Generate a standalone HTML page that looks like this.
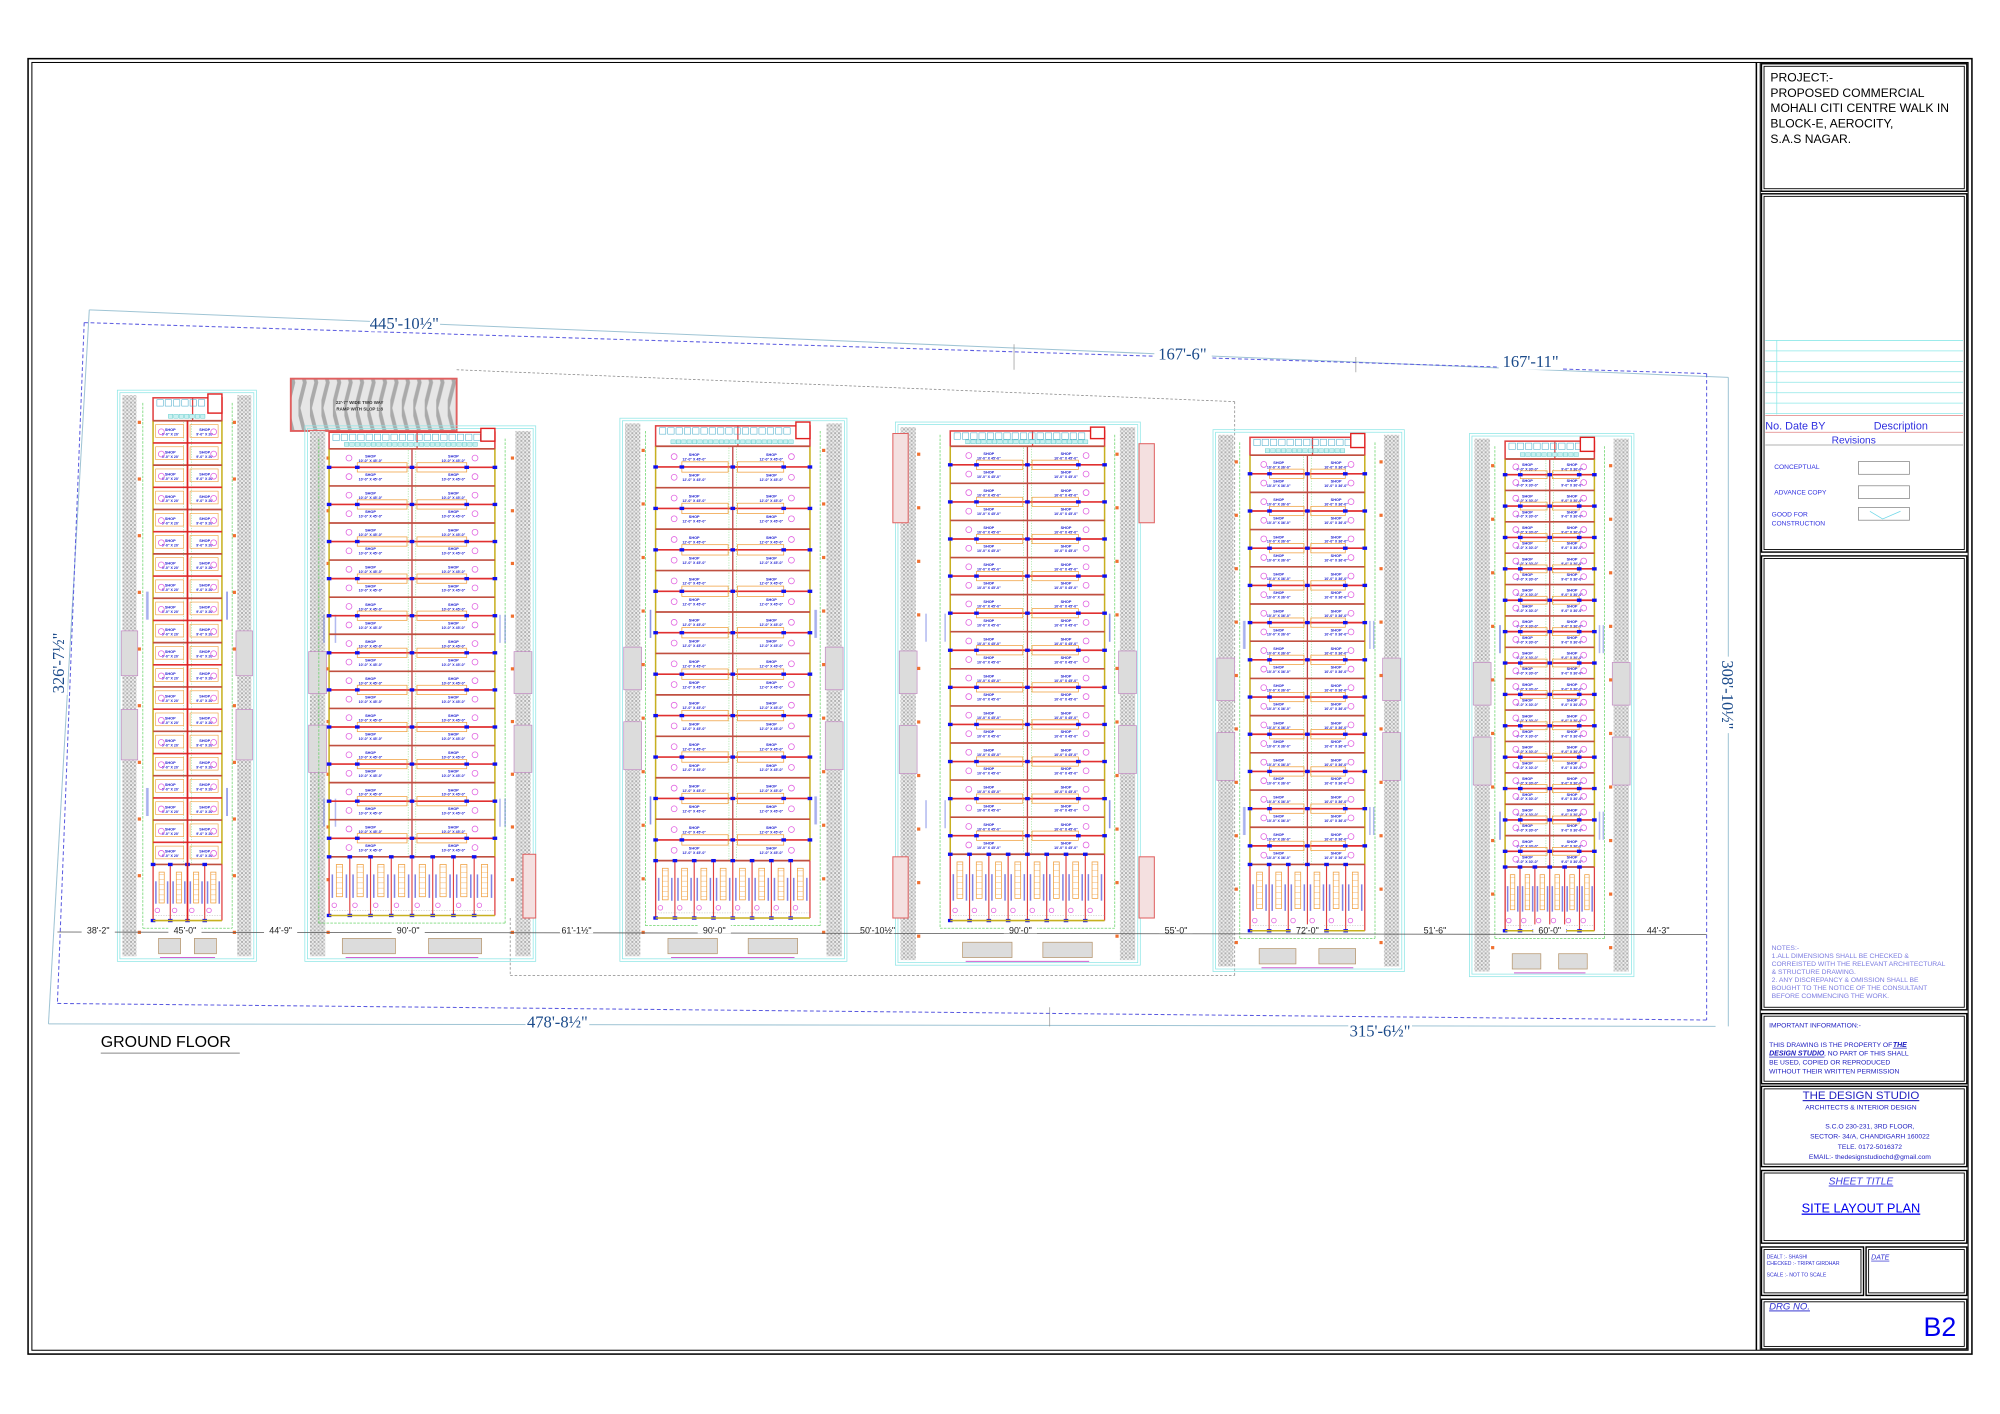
<!DOCTYPE html>
<html><head><meta charset="utf-8">
<style>
html,body{margin:0;padding:0;background:#fff;}
svg{display:block;}
text{font-family:"Liberation Sans",sans-serif;}
</style></head>
<body>
<svg id="s" xmlns="http://www.w3.org/2000/svg" width="2000" height="1414" viewBox="0 0 1568 1109" preserveAspectRatio="none">
<defs>
<pattern id="h" width="3" height="3" patternUnits="userSpaceOnUse">
<rect width="3" height="3" fill="#ececec"/>
<rect width="1.5" height="1.5" fill="#b0b0b0"/>
<rect x="1.5" y="1.5" width="1.5" height="1.5" fill="#c4c4c4"/>
</pattern>
<pattern id="ramp" width="9" height="40" patternUnits="userSpaceOnUse">
<rect width="9" height="40" fill="#e6e6e6"/>
<path d="M0 0 L5 20 L0 40" stroke="#aaa" stroke-width="3" fill="none"/>
</pattern>
</defs>
<rect width="1568" height="1109" fill="#fff"/>
<rect x="22" y="46" width="1524" height="1016" fill="none" stroke="#000" stroke-width="1.2"/>
<rect x="25" y="49" width="1518" height="1010" fill="none" stroke="#000" stroke-width="0.8"/>
<line x1="1377" y1="49" x2="1377" y2="1059" stroke="#000" stroke-width="1.2"/>
<line x1="1380" y1="49" x2="1380" y2="1059" stroke="#000" stroke-width="0.8"/>
<g id="tb"></g>
<g id="plan"></g>
</svg>
<script>
const NS="http://www.w3.org/2000/svg";
function el(p,t,a,txt){const e=document.createElementNS(NS,t);for(const k in a)e.setAttribute(k,a[k]);if(txt!==undefined)e.textContent=txt;p.appendChild(e);return e;}
const tb=document.getElementById('tb'), P=document.getElementById('plan');
function box(x1,y1,x2,y2){el(tb,'rect',{x:x1,y:y1,width:x2-x1,height:y2-y1,fill:'none',stroke:'#000','stroke-width':1.1});el(tb,'rect',{x:x1+2,y:y1+2,width:x2-x1-4,height:y2-y1-4,fill:'none',stroke:'#000','stroke-width':0.7});}
box(1381,50,1542,150);box(1381,152,1542,433);box(1381,436,1542,792);box(1381,795,1542,850);box(1381,852,1542,915);box(1381,918,1542,975);box(1381,978,1461,1016);box(1463,978,1542,1016);box(1381,1019,1542,1058);
const T=(x,y,s,t,o={})=>el(tb,'text',Object.assign({x:x,y:y,'font-size':s,fill:'#000'},o),t);
T(1388,64,9.5,'PROJECT:-');T(1388,76,9.5,'PROPOSED COMMERCIAL');T(1388,88,9.5,'MOHALI CITI CENTRE WALK IN');T(1388,100,9.5,'BLOCK-E, AEROCITY,');T(1388,112,9.5,'S.A.S NAGAR.');
for(let i=0;i<8;i++){el(tb,'line',{x1:1384,y1:267+i*8.2,x2:1539,y2:267+i*8.2,stroke:'#8ee8e8','stroke-width':0.6});}
el(tb,'line',{x1:1393,y1:267,x2:1393,y2:325,stroke:'#8ee8e8','stroke-width':0.6});
el(tb,'line',{x1:1384,y1:326,x2:1539,y2:326,stroke:'#e08080','stroke-width':0.6});
el(tb,'line',{x1:1384,y1:339,x2:1539,y2:339,stroke:'#e08080','stroke-width':0.6});
el(tb,'line',{x1:1384,y1:349,x2:1539,y2:349,stroke:'#999','stroke-width':0.6});
T(1384,337,8.5,'No.  Date  BY',{fill:'#3030e0'});T(1469,337,8.5,'Description',{fill:'#3030e0'});T(1436,348,8,'Revisions',{fill:'#3030e0'});
T(1391,368,5.2,'CONCEPTUAL',{fill:'#3030e0'});T(1391,388,5.2,'ADVANCE COPY',{fill:'#3030e0'});T(1389,405,5.2,'GOOD FOR',{fill:'#3030e0'});T(1389,412,5.2,'CONSTRUCTION',{fill:'#3030e0'});
[362,381,398].forEach(y=>el(tb,'rect',{x:1457,y:y,width:40,height:10,fill:'none',stroke:'#888','stroke-width':0.6}));
el(tb,'path',{d:'M1466 401 L1476 407 L1490 401',stroke:'#6fd8e8','stroke-width':0.6,fill:'none'});
const nc='#7b7be0';
['NOTES:-','1.ALL DIMENSIONS SHALL BE CHECKED &','CORREISTED WITH THE RELEVANT ARCHITECTURAL','& STRUCTURE DRAWING.','2. ANY DISCREPANCY & OMISSION SHALL BE','BOUGHT TO THE NOTICE OF THE CONSULTANT','BEFORE COMMENCING THE WORK.'].forEach((t,i)=>T(1389,745+i*6.3,5.3,t,{fill:nc}));
T(1387,806,5.3,'IMPORTANT INFORMATION:-',{fill:'#2020c0'});
T(1387,821,5.3,'THIS DRAWING IS THE PROPERTY OF ',{fill:'#2020c0'});
T(1484,821,5.5,'THE',{fill:'#2020c0','font-weight':'bold','font-style':'italic','text-decoration':'underline'});
T(1387,828,5.5,'DESIGN STUDIO',{fill:'#2020c0','font-weight':'bold','font-style':'italic','text-decoration':'underline'});
T(1430,828,5.3,', NO PART OF THIS SHALL',{fill:'#2020c0'});
T(1387,835,5.3,'BE USED, COPIED OR REPRODUCED',{fill:'#2020c0'});T(1387,842,5.3,'WITHOUT THEIR WRITTEN PERMISSION',{fill:'#2020c0'});
const C={'text-anchor':'middle',fill:'#2020c0'};
T(1459,862,9,'THE DESIGN STUDIO',Object.assign({},C,{'text-decoration':'underline'}));
T(1459,870,5.3,'ARCHITECTS & INTERIOR DESIGN',C);
T(1466,885,5.3,'S.C.O 230-231, 3RD FLOOR,',C);T(1466,893,5.3,'SECTOR- 34/A, CHANDIGARH 160022',C);T(1466,901,5.3,'TELE. 0172-5016372',C);T(1466,909,5.3,'EMAIL:- thedesignstudiochd@gmail.com',C);
T(1459,929,8,'SHEET TITLE',Object.assign({},C,{'font-style':'italic','text-decoration':'underline',fill:'#4040e0'}));
T(1459,951,10,'SITE LAYOUT PLAN',Object.assign({},C,{fill:'#0000ee','text-decoration':'underline'}));
T(1385,987,4,'DEALT    :- SHASHI',{fill:'#3030d0'});T(1385,992,4,'CHECKED :- TRIPAT GIRDHAR',{fill:'#3030d0'});T(1385,1001,4,'SCALE    :- NOT TO SCALE',{fill:'#3030d0'});
T(1467,988,5.5,'DATE',{fill:'#3030d0','font-style':'italic','text-decoration':'underline'});
T(1387,1027,7.5,'DRG NO.',{fill:'#3030d0','font-style':'italic','text-decoration':'underline'});
T(1508,1048,21,'B2',{fill:'#0000ee'});

const L=(x1,y1,x2,y2,c,w,d)=>el(P,'line',Object.assign({x1,y1,x2,y2,stroke:c,'stroke-width':w||0.7},d?{'stroke-dasharray':d}:{}));
L(70,243,1355,296,'#9fc4d4',0.8);L(70,243,38,803,'#9fc4d4',0.8);L(38,803,1345,805,'#9fc4d4',0.8);L(1355,296,1355,805,'#9fc4d4',0.8);
L(66,253,1338,293,'#5a5ae0',0.8,'3,2');L(66,253,45,787,'#5a5ae0',0.8,'3,2');L(45,787,1338,800,'#5a5ae0',0.8,'3,2');L(1338,293,1338,800,'#5a5ae0',0.8,'3,2');
L(358,290,968,315,'#888',0.6,'2,1.5');L(968,315,968,765,'#888',0.6,'2,1.5');L(400,765,968,765,'#888',0.6,'2,1.5');L(400,720,400,765,'#888',0.6,'2,1.5');
L(795,270,795,290,'#888',0.5);L(1063,280,1063,292,'#888',0.5);L(823,790,823,805,'#888',0.5);
const D=(x,y,t,s,rot)=>{const e=el(P,'text',{x,y,'font-size':s,fill:'#1a4a8a','text-anchor':'middle'},t);if(rot)e.setAttribute('transform',`rotate(${rot} ${x} ${y})`);e.setAttribute('style','font-family:"Liberation Serif",serif');return e;};
el(P,'rect',{x:290,y:246,width:55,height:14,fill:'#fff'});D(317,258,"445'-10½\"",13);
el(P,'rect',{x:905,y:270,width:45,height:14,fill:'#fff'});D(927,282,"167'-6\"",13);
el(P,'rect',{x:1175,y:276,width:50,height:14,fill:'#fff'});D(1200,288,"167'-11\"",13);
el(P,'rect',{x:37,y:495,width:16,height:50,fill:'#fff'});D(50,520,"326'-7½\"",13,-90);
el(P,'rect',{x:1343,y:515,width:16,height:60,fill:'#fff'});D(1350,545,"308'-10½\"",13,90);
el(P,'rect',{x:412,y:794,width:50,height:14,fill:'#fff'});D(437,806,"478'-8½\"",13);
el(P,'rect',{x:1057,y:801,width:50,height:14,fill:'#fff'});D(1082,813,"315'-6½\"",13);
el(P,'text',{x:79,y:821,'font-size':12.5,fill:'#000'},'GROUND FLOOR');L(79,826,188,826,'#888',0.8);

function bldg(o){
 const {sL,sR,sw,top,bot,cL,cR,sTop,rTop,rBot,bBot,n,units,shopTxt}=o;
 el(P,'rect',{x:sL-4,y:top-4,width:sR+sw-sL+8,height:bot-top+8,fill:'none',stroke:'#8fe6e6','stroke-width':0.6});
 el(P,'rect',{x:sL-2,y:top-2,width:sR+sw-sL+4,height:bot-top+4,fill:'none',stroke:'#8fe6e6','stroke-width':0.6});
 el(P,'rect',{x:sL,y:top,width:sw,height:bot-top,fill:'url(#h)'});
 el(P,'rect',{x:sR,y:top,width:sw,height:bot-top,fill:'url(#h)'});
 [[0.42,0.5],[0.56,0.65]].forEach(([a,b])=>{const y1=top+(bot-top)*a,y2=top+(bot-top)*b;
  el(P,'rect',{x:sL-1,y:y1,width:sw+2,height:y2-y1,fill:'#dcdcdc',stroke:'#c080c0','stroke-width':0.5});
  el(P,'rect',{x:sR-1,y:y1,width:sw+2,height:y2-y1,fill:'#dcdcdc',stroke:'#c080c0','stroke-width':0.5});});
 L(cL-8,top+6,cL-8,bBot+6,'#4ccc4c',0.5,'2,1');L(cR+8,top+6,cR+8,bBot+6,'#4ccc4c',0.5,'2,1');
 L(cL-8,bBot+6,cR+8,bBot+6,'#4ccc4c',0.5,'2,1');
 for(const x of [sL+sw+8,sR-8,cL-4,cR+4]){for(const f of [0.35,0.7])el(P,'rect',{x:x-0.6,y:top+(bot-top)*f,width:1.2,height:22,fill:'#5566dd',opacity:0.45});}
 for(let i=0;i<10;i++){const y=top+20+i*(bot-top-40)/9;el(P,'rect',{x:sL+sw+1,y,width:2.5,height:2.5,fill:'#f07030'});el(P,'rect',{x:sR-3.5,y,width:2.5,height:2.5,fill:'#f07030'});}
 el(P,'rect',{x:cL,y:sTop,width:cR-cL,height:rTop-sTop,fill:'none',stroke:'#e04040','stroke-width':1.2});
 const mid=(cL+cR)/2;
 L(mid+4,sTop,mid+4,rTop,'#e04040',1);
 for(let x=cL+3;x<cR-14;x+=6.5){el(P,'rect',{x,y:sTop+1.5,width:5,height:5,fill:'none',stroke:'#40a8c8','stroke-width':0.4});}
 for(let x=cL+12;x<cR-15;x+=4.2){el(P,'rect',{x,y:rTop-5,width:3.5,height:3,fill:'#c8f0f0',stroke:'#40c0c0','stroke-width':0.3});}
 el(P,'rect',{x:cR-11,y:sTop-3,width:11,height:rTop-sTop-3,fill:'#fff',stroke:'#e02020','stroke-width':1.1});
 L(cL,rTop,cL,rBot,'#c8b020',1.2);L(cR,rTop,cR,rBot,'#c8b020',1.2);
 L(mid,rTop,mid,rBot,'#c04040',1);
 el(P,'rect',{x:mid-3,y:rTop,width:6,height:rBot-rTop,fill:'none',stroke:'#50d050','stroke-width':0.3,'stroke-dasharray':'1,1'});
 const rh=(rBot-rTop)/n;
 for(let i=0;i<=n;i++){
  const y=rTop+i*rh;
  L(cL,y,cR,y,i%2?'#e03030':'#c05040',1.3);
  if(o.stairs && i%2==1 && i<n){
   el(P,'rect',{x:cL+(cR-cL)*0.17,y:y-rh*0.25,width:(mid-cL)*0.6,height:rh*0.5,fill:'none',stroke:'#f0a040','stroke-width':0.6});
   el(P,'rect',{x:mid+(cR-mid)*0.06,y:y-rh*0.25,width:(cR-mid)*0.6,height:rh*0.5,fill:'none',stroke:'#f0a040','stroke-width':0.6});
   for(const x of [cL,mid,cR,cL+(cR-cL)*0.17,cR-(cR-cL)*0.17]) el(P,'rect',{x:x-1.8,y:y-1.3,width:3.6,height:2.6,fill:'#1010ee'});
  }
  if(i<n){
   const cy=y+rh/2;
   for(const cx of [cL+(mid-cL)*0.5,mid+(cR-mid)*0.5]){
    el(P,'text',{x:cx,y:cy-0.5,'font-size':3,fill:'#1a1ad0','text-anchor':'middle','font-weight':'bold'},'SHOP');
    el(P,'text',{x:cx,y:cy+3,'font-size':2.8,fill:'#1a1ad0','text-anchor':'middle','font-weight':'bold'},shopTxt);
   }
   el(P,'circle',{cx:cL+(cR-cL)*0.12,cy:cy,r:2.3,fill:'none',stroke:'#e060e0','stroke-width':0.6});
   el(P,'circle',{cx:cR-(cR-cL)*0.12,cy:cy,r:2.3,fill:'none',stroke:'#e060e0','stroke-width':0.6});
  }
 }
 const uw=(cR-cL)/units;
 L(cL,rBot,cL,bBot,'#e04040',1);L(cR,rBot,cR,bBot,'#e04040',1);
 for(let i=0;i<units;i++){
  const x=cL+i*uw;
  L(x,rBot,x,bBot,'#e04040',0.9);
  el(P,'rect',{x:x+uw*0.35,y:rBot+6,width:uw*0.3,height:(bBot-rBot)*0.55,fill:'none',stroke:'#f0a040','stroke-width':0.6});
  for(let k=0;k<6;k++)L(x+uw*0.35,rBot+8+k*(bBot-rBot)*0.09,x+uw*0.65,rBot+8+k*(bBot-rBot)*0.09,'#f0a040',0.3);
  el(P,'rect',{x:x+uw*0.12,y:rBot+(bBot-rBot)*0.3,width:1.2,height:(bBot-rBot)*0.4,fill:'#3030d0',opacity:0.6});
  el(P,'rect',{x:x+uw*0.8,y:rBot+(bBot-rBot)*0.3,width:1.2,height:(bBot-rBot)*0.4,fill:'#3030d0',opacity:0.6});
  el(P,'circle',{cx:x+uw*0.25,cy:bBot-8,r:1.8,fill:'none',stroke:'#e060e0','stroke-width':0.6});
  el(P,'rect',{x:x-1.8,y:rBot-1.3,width:3.6,height:2.6,fill:'#1010ee'});
  el(P,'rect',{x:x-1.8,y:bBot-1.3,width:3.6,height:2.6,fill:'#1010ee'});
 }
 L(cL,bBot,cR,bBot,'#c8b020',1.2);
 L(cL,bBot-4,cR,bBot-4,'#999',0.3,'1,1');
 const bw=(cR-cL)*0.32;
 el(P,'rect',{x:cL+(cR-cL)*0.08,y:bot-14,width:bw,height:12,fill:'#dcdcdc',stroke:'#b89870','stroke-width':0.6});
 el(P,'rect',{x:cR-(cR-cL)*0.08-bw,y:bot-14,width:bw,height:12,fill:'#dcdcdc',stroke:'#b89870','stroke-width':0.6});
 L(cL+(cR-cL)*0.1,bot+1,cR-(cR-cL)*0.1,bot+1,'#d060d0',0.8);
}
bldg({sL:96,sR:186,sw:11,top:310,bot:750,cL:120,cR:174,sTop:312,rTop:330,rBot:678,bBot:722,n:20,units:4,shopTxt:"9'-0\" X 20'",stairs:false});
for(let i=0;i<20;i++){const y=330+i*17.4;el(P,'rect',{x:122,y:y+3,width:22,height:10,fill:'none',stroke:'#f0a040','stroke-width':0.5});el(P,'rect',{x:149,y:y+3,width:22,height:10,fill:'none',stroke:'#f0a040','stroke-width':0.5});}
L(147,330,147,722,'#e02020',1.3);
el(P,'rect',{x:228,y:297,width:130,height:41,fill:'url(#ramp)',stroke:'#e06060','stroke-width':1.5});
el(P,'text',{x:282,y:317,'font-size':3.5,fill:'#333','font-weight':'bold','text-anchor':'middle'},"22'-7\" WIDE TWO WAY");
el(P,'text',{x:282,y:322,'font-size':3.5,fill:'#333','font-weight':'bold','text-anchor':'middle'},"RAMP WITH SLOP 1:8");
bldg({sL:243,sR:404,sw:12,top:338,bot:750,cL:258,cR:388,sTop:339,rTop:352,rBot:672,bBot:718,n:22,units:8,shopTxt:"10'-0\" X 45'-0\"",stairs:true});
bldg({sL:490,sR:648,sw:12,top:332,bot:750,cL:514,cR:635,sTop:334,rTop:350,rBot:675,bBot:720,n:20,units:8,shopTxt:"12'-0\" X 45'-0\"",stairs:true});
bldg({sL:706,sR:878,sw:12,top:335,bot:753,cL:745,cR:866,sTop:338,rTop:350,rBot:670,bBot:722,n:22,units:8,shopTxt:"10'-0\" X 45'-0\"",stairs:true});
bldg({sL:955,sR:1085,sw:12,top:341,bot:758,cL:980,cR:1070,sTop:343,rTop:357,rBot:678,bBot:730,n:22,units:6,shopTxt:"10'-0\" X 36'-0\"",stairs:true});
bldg({sL:1156,sR:1265,sw:12,top:344,bot:762,cL:1180,cR:1250,sTop:346,rTop:360,rBot:680,bBot:730,n:26,units:6,shopTxt:"9'-0\" X 30'-0\"",stairs:true});
[[410,670,420,720],[893,348,905,410],[893,672,905,720],[700,340,712,410],[700,672,712,720]].forEach(([x1,y1,x2,y2])=>el(P,'rect',{x:x1,y:y1,width:x2-x1,height:y2-y1,fill:'#f4e0e0',stroke:'#e06060','stroke-width':0.8}));
L(45,731,1338,733,'#555',0.6);
const dims=[[77,"38'-2\""],[145,"45'-0\""],[220,"44'-9\""],[320,"90'-0\""],[452,"61'-1½\""],[560,"90'-0\""],[688,"50'-10½\""],[800,"90'-0\""],[922,"55'-0\""],[1025,"72'-0\""],[1125,"51'-6\""],[1215,"60'-0\""],[1300,"44'-3\""]];
dims.forEach(([x,t])=>{el(P,'rect',{x:x-13,y:725,width:26,height:7,fill:'#fff'});el(P,'text',{x,y:732,'font-size':7,fill:'#222','text-anchor':'middle'},t);});
</script>
</body></html>
